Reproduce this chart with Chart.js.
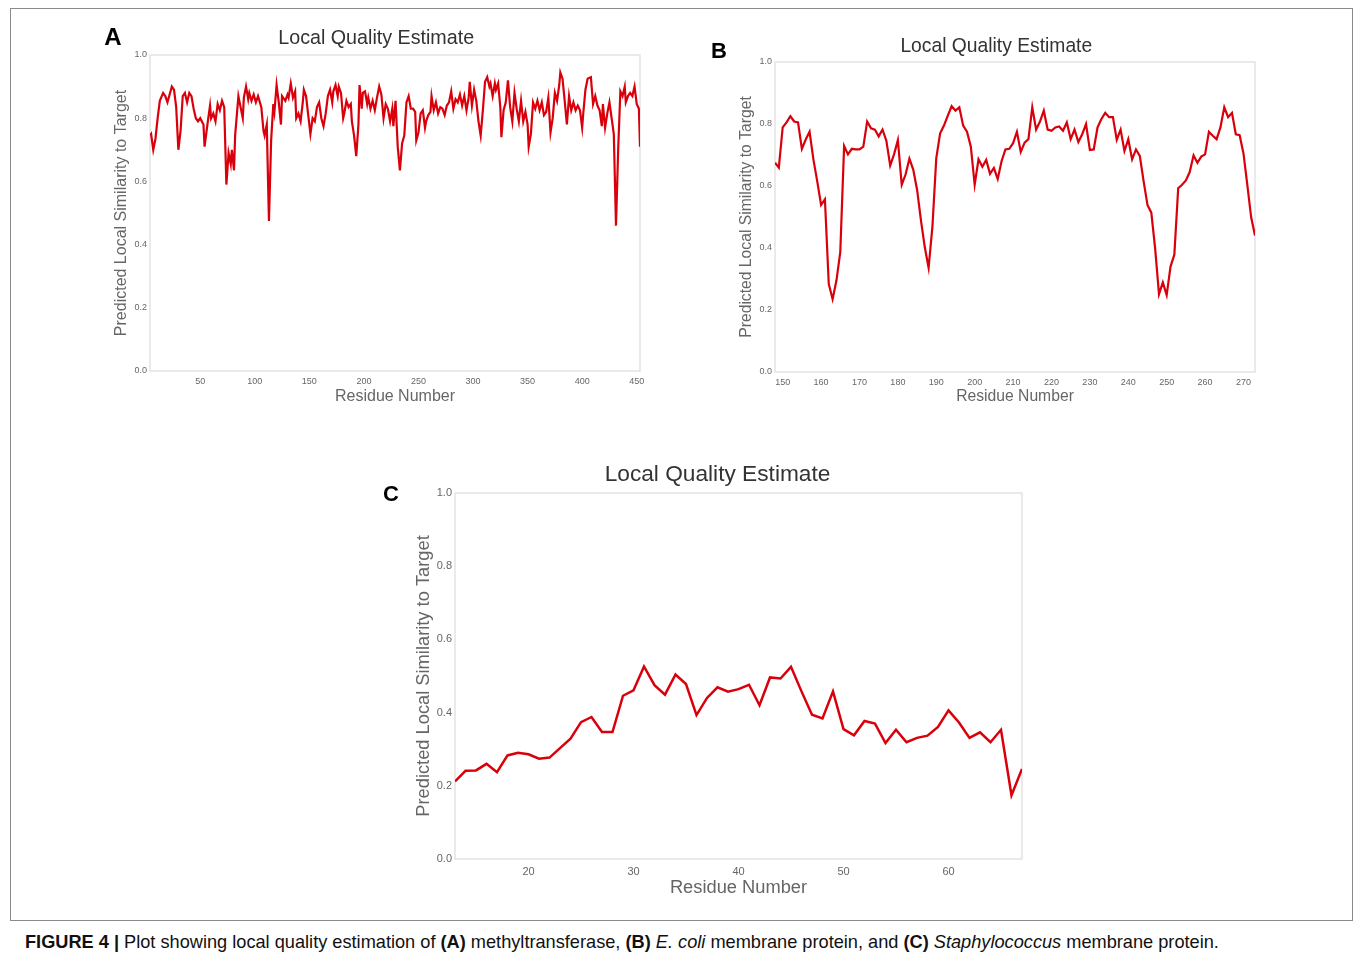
<!DOCTYPE html>
<html>
<head>
<meta charset="utf-8">
<script src="https://cdn.jsdelivr.net/npm/chart.js@4.4.1/dist/chart.umd.min.js"></script>
<style>
  html, body { margin:0; padding:0; background:#fff; }
  body { width:1355px; height:959px; position:relative; overflow:hidden; font-family:"Liberation Sans", Arial, sans-serif; }
  .frame { position:absolute; left:10px; top:8px; width:1343px; height:913px; border:1px solid #8a8a8a; box-sizing:border-box; }
  .panel { position:absolute; }
  .letter { position:absolute; font-weight:bold; color:#000; transform:translate(-50%,-50%); line-height:1; }
  .caption { position:absolute; left:25px; top:932px; font-size:18.2px; color:#111; white-space:nowrap; }
</style>
</head>
<body>
<div class="frame"></div>

<div class="panel" id="wrapA"><canvas id="chartA"></canvas></div>
<div class="panel" id="wrapB"><canvas id="chartB"></canvas></div>
<div class="panel" id="wrapC"><canvas id="chartC"></canvas></div>

<div class="letter" style="left:113px;top:37px;font-size:24px;">A</div>
<div class="letter" style="left:719px;top:51px;font-size:22px;">B</div>
<div class="letter" style="left:391px;top:494px;font-size:22px;">C</div>

<div class="caption"><b>FIGURE 4 |</b> Plot showing local quality estimation of <b>(A)</b> methyltransferase, <b>(B)</b> <i>E. coli</i> membrane protein, and <b>(C)</b> <i>Staphylococcus</i> membrane protein.</div>

<script>
// ══════════════════════════════════════════════════
//  DATA
// ══════════════════════════════════════════════════
const chartTitle = 'Local Quality Estimate';
const xAxisTitle = 'Residue Number';
const yAxisTitle = 'Predicted Local Similarity to Target';

// (A) methyltransferase
const residuesA = [
  4,5,7,9,11,13,16,18,20,22, 24,26,28,30,32,34,36,38,40,42,
  44,46,48,50,53,54,57,59,60,62, 64,66,68,70,72,74,76,78,79,81,
  82,85,87,89,90,92,94,95,97,99, 101,103,106,108,109,111,113,115,117,118,
  120,122,124,125,128,130,131,133,135,137, 138,140,142,144,145,147,149,151,153,155,
  157,159,161,163,165,167,169,171,172,174, 176,177,179,181,182,184,186,188,189,191,
  193,195,196,198,199,201,203,204,206,208, 210,212,214,216,218,220,222,224,226,227,
  229,231,233,235,237,239,241,243,245,247, 248,250,252,254,256,257,259,261,262,264,
  266,268,270,272,274,276,278,280,282,284, 286,288,290,292,294,296,297,299,301,303,
  305,307,309,311,313,315,316,318,320,321, 323,325,326,328,330,332,334,336,338,340,
  342,344,346,348,350,351,353,355,357,359, 361,363,365,367,369,371,373,375,377,379,
  380,382,384,386,388,390,392,394,396,398, 400,401,403,405,408,410,412,414,416,418,
  419,421,423,425,427,429,431,433,435,437, 439,440,442,444,446,448,450,452,453
];
const scoresA = [
  0.745,0.75,0.70,0.735,0.80,0.855,0.88,0.87,0.85,0.875, 0.90,0.89,0.835,0.70,0.76,0.87,0.88,0.85,0.88,0.87,
  0.83,0.80,0.79,0.80,0.78,0.71,0.79,0.84,0.80,0.815, 0.79,0.845,0.825,0.855,0.835,0.59,0.69,0.655,0.70,0.635,
  0.745,0.87,0.835,0.80,0.865,0.90,0.86,0.88,0.855,0.875, 0.85,0.87,0.835,0.76,0.745,0.78,0.475,0.73,0.845,0.82,
  0.905,0.85,0.78,0.87,0.855,0.875,0.865,0.91,0.865,0.885, 0.80,0.815,0.79,0.85,0.89,0.87,0.81,0.75,0.80,0.79,
  0.835,0.85,0.80,0.775,0.815,0.87,0.89,0.85,0.885,0.905, 0.87,0.90,0.88,0.80,0.815,0.855,0.835,0.845,0.79,0.745,
  0.68,0.78,0.905,0.83,0.88,0.885,0.845,0.865,0.83,0.855, 0.825,0.865,0.90,0.875,0.80,0.845,0.83,0.79,0.83,0.775,
  0.855,0.71,0.635,0.72,0.745,0.85,0.87,0.83,0.83,0.82, 0.73,0.755,0.815,0.825,0.77,0.79,0.81,0.82,0.87,0.825,
  0.85,0.815,0.835,0.83,0.81,0.84,0.85,0.885,0.83,0.86, 0.85,0.875,0.84,0.87,0.825,0.865,0.915,0.84,0.89,0.855,
  0.79,0.745,0.825,0.915,0.93,0.90,0.91,0.87,0.91,0.89, 0.91,0.835,0.74,0.825,0.85,0.92,0.835,0.79,0.88,0.83,
  0.79,0.855,0.79,0.82,0.78,0.71,0.75,0.85,0.83,0.855, 0.825,0.85,0.81,0.82,0.865,0.755,0.80,0.88,0.855,0.905,
  0.945,0.925,0.855,0.78,0.87,0.825,0.85,0.825,0.84,0.825, 0.77,0.815,0.89,0.925,0.93,0.845,0.87,0.84,0.825,0.775,
  0.845,0.77,0.815,0.85,0.80,0.75,0.46,0.70,0.885,0.87, 0.90,0.85,0.87,0.88,0.87,0.90,0.845,0.83,0.71
];
const xTicksA = [50,100,150,200,250,300,350,400,450];

// (B) E. coli membrane protein
const residuesB = [
  148,149,150,151,152,153,154,155,156,157, 158,159,160,161,162,163,164,165,166,167,
  168,169,170,171,172,173,174,175,176,177, 178,179,180,181,182,183,184,185,186,187,
  188,189,190,191,192,193,194,195,196,197, 198,199,200,201,202,203,204,205,206,207,
  208,209,210,211,212,213,214,215,216,217, 218,219,220,221,222,223,224,225,226,227,
  228,229,230,231,232,233,234,235,236,237, 238,239,240,241,242,243,244,245,246,247,
  248,249,250,251,252,253,254,255,256,257, 258,259,260,261,262,263,264,265,266,267,
  268,269,270,271,272,273
];
const scoresB = [
  0.675,0.659,0.789,0.805,0.825,0.808,0.805,0.72,0.75,0.775, 0.686,0.615,0.539,0.557,0.284,0.235,0.295,0.387,0.729,0.702,
  0.72,0.718,0.718,0.727,0.808,0.786,0.782,0.76,0.782,0.746, 0.666,0.702,0.748,0.604,0.637,0.688,0.653,0.588,0.49,0.403,
  0.336,0.47,0.69,0.77,0.795,0.827,0.858,0.843,0.854,0.795, 0.775,0.727,0.604,0.686,0.662,0.684,0.639,0.658,0.623,0.68,
  0.718,0.72,0.738,0.775,0.71,0.74,0.751,0.854,0.782,0.808, 0.843,0.782,0.778,0.789,0.792,0.778,0.805,0.751,0.782,0.742,
  0.767,0.80,0.716,0.718,0.789,0.816,0.836,0.822,0.822,0.749, 0.782,0.713,0.751,0.686,0.718,0.697,0.615,0.539,0.514,0.398,
  0.251,0.289,0.248,0.34,0.379,0.593,0.604,0.618,0.645,0.699, 0.675,0.695,0.702,0.775,0.762,0.751,0.789,0.854,0.822,0.836,
  0.767,0.764,0.705,0.604,0.499,0.44
];
const xTicksB = [150,160,170,180,190,200,210,220,230,240,250,260,270];

// (C) Staphylococcus membrane protein
const residuesC = [
  13,14,15,16,17,18,19,20,21,22, 23,24,25,26,27,28,29,30,31,32,
  33,34,35,36,37,38,39,40,41,42, 43,44,45,46,47,48,49,50,51,52,
  53,54,55,56,57,58,59,60,61,62, 63,64,65,66,67
];
const scoresC = [
  0.212,0.241,0.242,0.26,0.237,0.283,0.29,0.286,0.274,0.277, 0.303,0.329,0.374,0.388,0.347,0.347,0.446,0.461,0.526,0.475,
  0.449,0.504,0.478,0.393,0.44,0.469,0.457,0.464,0.476,0.42, 0.496,0.493,0.525,0.458,0.394,0.384,0.458,0.355,0.338,0.377,
  0.37,0.317,0.353,0.319,0.331,0.337,0.361,0.406,0.373,0.331, 0.346,0.319,0.353,0.174,0.246
];
const xTicksC = [20,30,40,50,60];

const yTicks = [0, 0.2, 0.4, 0.6, 0.8, 1.0];

// ══════════════════════════════════════════════════
//  CHARTS
// ══════════════════════════════════════════════════
const lineRed = '#d9000b';

// light grey box round the plotting area
const plotBorder = {
  id: 'plotBorder',
  beforeDatasetsDraw(chart) {
    const { ctx, chartArea: a } = chart;
    ctx.save();
    ctx.strokeStyle = '#e3e3e3';
    ctx.lineWidth = 1.5;
    ctx.strokeRect(a.left, a.top, a.right - a.left, a.bottom - a.top);
    ctx.restore();
  }
};

// page geometry of each panel: canvas box, plot box, title / axis-title positions
function makePanel(canvasId, wrapId, p, residues, scores, xTicks, xMin, xMax) {
  const wrap = document.getElementById(wrapId);
  Object.assign(wrap.style, { left: p.box[0]+'px', top: p.box[1]+'px', width: p.box[2]+'px', height: p.box[3]+'px' });

  const tLh = p.titleSize * 1.2, aLh = p.axisSize * 1.2;
  const padLeft = p.yTitleX - p.box[0] - aLh / 2;
  const yAxisW = p.plot[0] - p.box[0] - padLeft;
  const padRight = p.box[0] + p.box[2] - p.plot[2];
  const xAxisH = p.xTitleY - p.plot[3] + aLh / 2;
  const padBottom = p.box[1] + p.box[3] - p.plot[3] - xAxisH;
  const titleTop = p.titleY - p.box[1] - tLh / 2;
  const titleBottom = p.plot[1] - p.titleY - tLh / 2;

  const tickFont = { family: "'Liberation Sans', Arial, sans-serif", size: p.tickSize };
  const axisFont = { family: "'Liberation Sans', Arial, sans-serif", size: p.axisSize };

  new Chart(document.getElementById(canvasId), {
    type: 'line',
    data: {
      datasets: [{
        data: residues.map((r, i) => ({ x: r, y: scores[i] })),
        borderColor: lineRed,
        borderWidth: p.lineW,
        pointRadius: 0,
        tension: 0,
        fill: false,
      }]
    },
    options: {
      responsive: true, maintainAspectRatio: false, animation: false,
      layout: { padding: { left: padLeft, right: padRight, top: 0, bottom: padBottom } },
      plugins: {
        legend: { display: false },
        tooltip: { enabled: false },
        title: {
          display: true, text: chartTitle, color: '#333',
          font: { family: "'Liberation Sans', Arial, sans-serif", size: p.titleSize, weight: 'normal' },
          padding: { top: titleTop, bottom: titleBottom }
        }
      },
      scales: {
        x: {
          type: 'linear', min: xMin, max: xMax,
          afterBuildTicks: s => { s.ticks = xTicks.map(v => ({ value: v })); },
          afterFit: s => { s.height = xAxisH; },
          grid: { display: false, drawTicks: false },
          border: { display: false },
          ticks: { color: '#666', font: tickFont, padding: p.xTickPad, maxRotation: 0, autoSkip: false },
          title: { display: true, text: xAxisTitle, color: '#666', font: axisFont, padding: 0 }
        },
        y: {
          min: 0, max: 1,
          afterBuildTicks: s => { s.ticks = yTicks.map(v => ({ value: v })); },
          afterFit: s => { s.width = yAxisW; },
          grid: { display: false, drawTicks: false },
          border: { display: false },
          ticks: { color: '#666', font: tickFont, padding: 3, callback: v => v.toFixed(1) },
          title: { display: true, text: yAxisTitle, color: '#666', font: axisFont, padding: 0 }
        }
      }
    },
    plugins: [plotBorder]
  });
}

makePanel('chartA', 'wrapA', {
  box: [100, 15, 560, 410], plot: [150, 55, 640, 371],
  titleY: 39, titleSize: 19.7, yTitleX: 122, xTitleY: 397, axisSize: 16,
  tickSize: 9, xTickPad: 5, lineW: 2.2
}, residuesA, scoresA, xTicksA, 4, 453);

makePanel('chartB', 'wrapB', {
  box: [720, 20, 560, 405], plot: [775, 62, 1255, 372],
  titleY: 47, titleSize: 19.3, yTitleX: 747, xTitleY: 397, axisSize: 15.7,
  tickSize: 9, xTickPad: 5, lineW: 2.2
}, residuesB, scoresB, xTicksB, 148, 273);

makePanel('chartC', 'wrapC', {
  box: [370, 445, 680, 470], plot: [455, 493, 1022, 859],
  titleY: 475, titleSize: 22.7, yTitleX: 424, xTitleY: 888, axisSize: 18.3,
  tickSize: 11, xTickPad: 6, lineW: 2.5
}, residuesC, scoresC, xTicksC, 13, 67);
</script>
</body>
</html>
